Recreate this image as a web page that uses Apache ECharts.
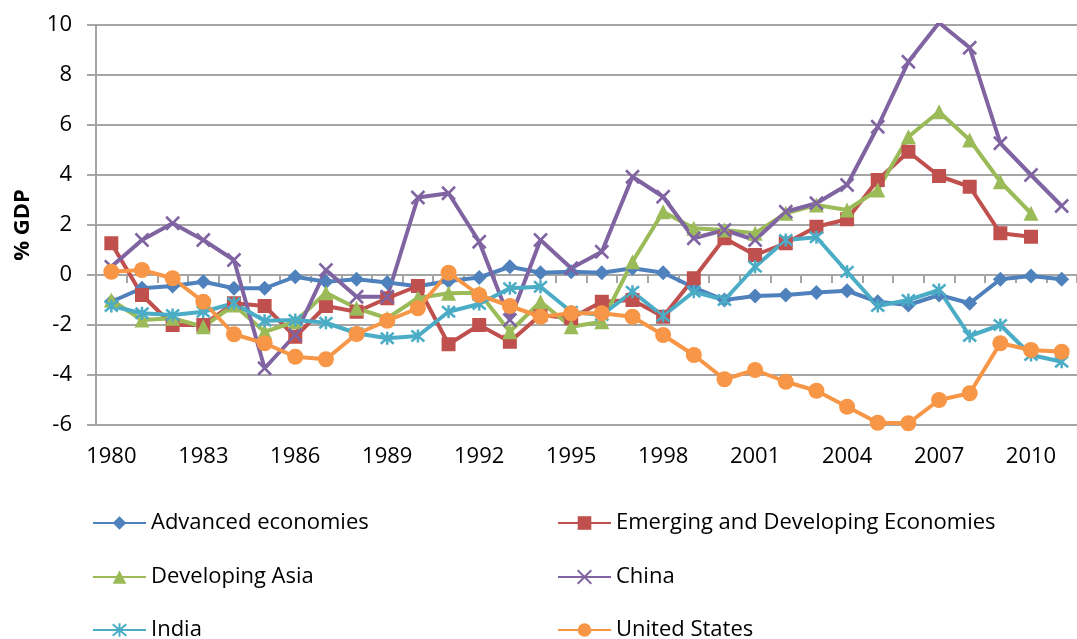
<!DOCTYPE html>
<html>
<head>
<meta charset="utf-8">
<style>
  html, body { margin: 0; padding: 0; background: #fff; }
  #chart { width: 1077px; height: 639px; }
</style>
<script src="https://cdn.jsdelivr.net/npm/echarts@6/dist/echarts.min.js"></script>
</head>
<body>
<div id="chart"></div>
<script>
const years = []
for (let y = 1980; y <= 2011; y++) years.push(String(y))

const yTicks = { min: -6, max: 10, step: 2 }

const advanced = [-1.07, -0.53, -0.44, -0.27, -0.53, -0.53, -0.07, -0.27, -0.17, -0.3, -0.45, -0.24, -0.1, 0.33, 0.09, 0.13, 0.09, 0.27, 0.09, -0.5, -1.0, -0.84, -0.8, -0.7, -0.63, -1.07, -1.2, -0.8, -1.13, -0.17, -0.04, -0.17]
const emerging = [1.27, -0.8, -2.0, -2.0, -1.13, -1.24, -2.47, -1.24, -1.47, -0.93, -0.44, -2.77, -2.0, -2.67, -1.6, -1.73, -1.07, -1.0, -1.67, -0.13, 1.47, 0.8, 1.27, 1.93, 2.23, 3.8, 4.93, 3.96, 3.53, 1.67, 1.53]
const devAsia = [-1.0, -1.8, -1.73, -2.07, -1.2, -2.27, -1.87, -0.71, -1.33, -1.73, -0.92, -0.73, -0.71, -2.27, -1.07, -2.07, -1.87, 0.53, 2.53, 1.87, 1.8, 1.67, 2.47, 2.8, 2.6, 3.4, 5.53, 6.53, 5.4, 3.73, 2.47]
const china = [0.33, 1.4, 2.07, 1.4, 0.6, -3.73, -2.4, 0.2, -0.87, -0.87, 3.1, 3.27, 1.33, -1.8, 1.4, 0.27, 0.93, 3.93, 3.13, 1.47, 1.8, 1.4, 2.53, 2.87, 3.6, 5.93, 8.53, 10.09, 9.09, 5.27, 4.0, 2.76]
const india = [-1.24, -1.53, -1.6, -1.47, -1.13, -1.83, -1.8, -1.91, -2.33, -2.53, -2.44, -1.47, -1.16, -0.53, -0.47, -1.47, -1.6, -0.67, -1.64, -0.67, -1.0, 0.33, 1.4, 1.51, 0.13, -1.24, -1.0, -0.6, -2.44, -2.0, -3.2, -3.47]
const us = [0.13, 0.2, -0.13, -1.07, -2.37, -2.73, -3.27, -3.37, -2.36, -1.83, -1.33, 0.09, -0.8, -1.24, -1.67, -1.53, -1.53, -1.67, -2.4, -3.2, -4.17, -3.8, -4.27, -4.63, -5.27, -5.91, -5.93, -5.0, -4.73, -2.73, -3.0, -3.07]

const FONT = '"Open Sans", sans-serif'
const gridGray = '#a5a5a5'

const CROSS = 'path://M0,0L10,10M10,0L0,10'
const STAR = 'path://M0,0L10,10M10,0L0,10M5,-1L5,11'

// legend slot: [left, top]
const seriesDefs = [
  { name: 'Advanced economies', data: advanced, color: '#4f81bd', symbol: 'diamond', size: 15, slot: [87, 507] },
  { name: 'Emerging and Developing Economies', data: emerging, color: '#c0504d', symbol: 'rect', size: 14, slot: [552, 507] },
  { name: 'Developing Asia', data: devAsia, color: '#9bbb59', symbol: 'triangle', size: 15, slot: [87, 561] },
  { name: 'China', data: china, color: '#8064a2', symbol: CROSS, size: 13, stroke: true, slot: [552, 561] },
  { name: 'India', data: india, color: '#4bacc6', symbol: STAR, size: 13, stroke: true, slot: [87, 614] },
  { name: 'United States', data: us, color: '#f79646', symbol: 'circle', size: 16, slot: [552, 614] }
]

const chart = echarts.init(document.getElementById('chart'))

const option = {
  animation: false,
  textStyle: { fontFamily: FONT },
  grid: { left: 96, right: -10, top: 25, bottom: 214, containLabel: false },
  legend: seriesDefs.map(s => ({
    data: [s.name],
    left: s.slot[0],
    top: s.slot[1],
    itemWidth: 53,
    itemHeight: 17,
    itemGap: 5,
    textStyle: { fontFamily: FONT, fontSize: 22, color: '#000' }
  })),
  xAxis: [
    {
      type: 'category',
      data: years,
      position: 'bottom',
      boundaryGap: true,
      axisLine: { show: false, onZero: false },
      axisTick: { show: false },
      axisLabel: { interval: 2, margin: 21, fontFamily: FONT, fontSize: 22, color: '#000' },
      splitLine: { show: false }
    },
    {
      // axis line crossing at zero with the tick marks
      type: 'category',
      data: years,
      position: 'top',
      boundaryGap: true,
      axisLine: { show: true, onZero: true, lineStyle: { color: gridGray, width: 2 } },
      axisTick: { show: true, inside: true, length: 8, interval: 0, lineStyle: { color: gridGray, width: 2 } },
      axisLabel: { show: false },
      splitLine: { show: false }
    }
  ],
  yAxis: {
    type: 'value',
    min: yTicks.min,
    max: yTicks.max,
    interval: yTicks.step,
    name: '% GDP',
    nameLocation: 'middle',
    nameGap: 62,
    nameTextStyle: { fontFamily: FONT, fontSize: 22, fontWeight: 'bold', color: '#000' },
    axisLine: { show: true, lineStyle: { color: gridGray, width: 2 } },
    axisTick: { show: true, length: 9, lineStyle: { color: gridGray, width: 2 } },
    axisLabel: { margin: 24, fontFamily: FONT, fontSize: 22, color: '#000' },
    splitLine: { show: true, lineStyle: { color: gridGray, width: 2 } }
  },
  series: seriesDefs.map(s => ({
    name: s.name,
    type: 'line',
    xAxisIndex: 0,
    data: s.data,
    symbol: s.symbol,
    symbolSize: s.size,
    showAllSymbol: true,
    lineStyle: { color: s.color, width: 4 },
    itemStyle: s.stroke
      ? { color: s.color, borderColor: s.color, borderWidth: 2.5 }
      : { color: s.color, borderWidth: 0 }
  }))
}

chart.setOption(option)
</script>
</body>
</html>
